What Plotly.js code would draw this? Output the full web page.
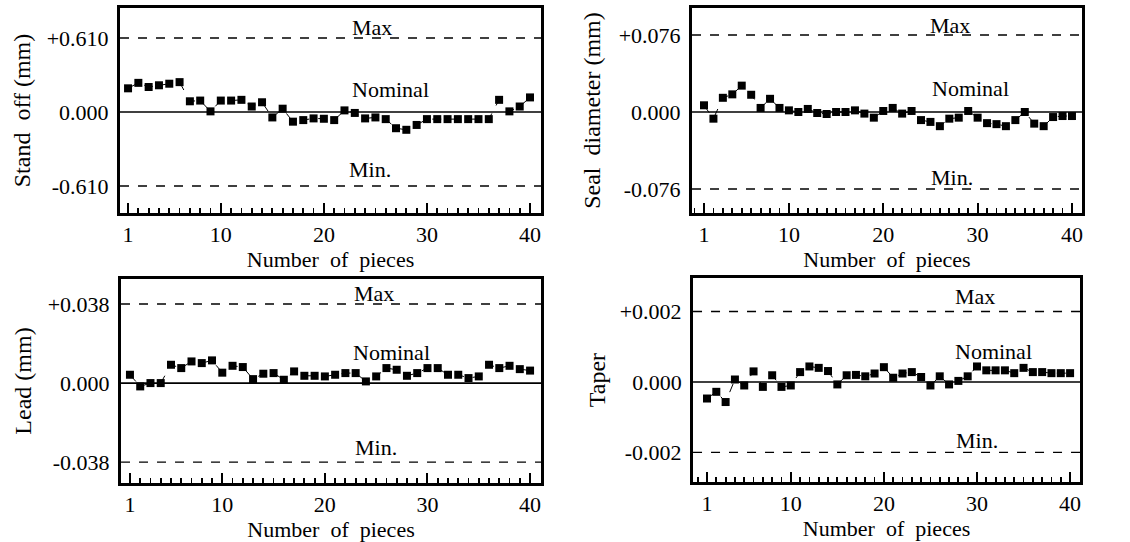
<!DOCTYPE html>
<html>
<head>
<meta charset="utf-8">
<script src="https://cdn.plot.ly/plotly-3.0.1.min.js"></script>
<style>html,body{margin:0;padding:0;background:#fff;}#chart{width:1130px;height:542px;}</style>
</head>
<body>
<div id="chart"></div>
<script>
// ---- data ----
const pieces = Array.from({length: 40}, (_, i) => i + 1);
const xTickVals = [1, 10, 20, 30, 40];
const xTickText = ["1", "10", "20", "30", "40"];

const standOff = [0.195, 0.24, 0.206, 0.22, 0.233, 0.246, 0.088, 0.094, 0.005, 0.094,
  0.094, 0.10, 0.045, 0.08, -0.045, 0.027, -0.08, -0.067, -0.053, -0.056,
  -0.067, 0.013, -0.008, -0.053, -0.045, -0.059, -0.134, -0.147, -0.107, -0.059,
  -0.059, -0.059, -0.059, -0.059, -0.059, -0.059, 0.10, 0.005, 0.045, 0.12];
const sealDiameter = [0.0066, -0.0066, 0.014, 0.0174, 0.026, 0.017, 0.004, 0.013, 0.004, 0.0016,
  0.0, 0.003, -0.001, -0.002, 0.0, 0.0, 0.0016, -0.0016, -0.0056, 0.001,
  0.004, -0.0016, 0.001, -0.008, -0.0098, -0.014, -0.0066, -0.0056, 0.001, -0.0056,
  -0.011, -0.012, -0.014, -0.008, 0.0, -0.0115, -0.014, -0.005, -0.004, -0.004];
const lead = [0.004, -0.0016, 0.0, 0.0, 0.0088, 0.0072, 0.0104, 0.0096, 0.0109, 0.005,
  0.0083, 0.0077, 0.0019, 0.0045, 0.0048, 0.0016, 0.0056, 0.0035, 0.0035, 0.0032,
  0.004, 0.0048, 0.0048, 0.0008, 0.0032, 0.0072, 0.0064, 0.0035, 0.0048, 0.0072,
  0.0072, 0.004, 0.004, 0.0024, 0.0032, 0.0088, 0.0072, 0.0083, 0.0067, 0.006];
const taper = [-0.00047, -0.00028, -0.00057, 0.00007, -0.0001, 0.0003, -0.00014, 0.00019, -0.00014, -0.0001,
  0.00028, 0.00044, 0.0004, 0.00031, -0.00007, 0.00019, 0.0002, 0.00016, 0.00024, 0.00042,
  0.00012, 0.00024, 0.00028, 0.00014, -0.0001, 0.00016, -0.00007, 0.00003, 0.00016, 0.00044,
  0.00033, 0.00033, 0.00033, 0.00025, 0.0004, 0.00028, 0.00028, 0.00025, 0.00025, 0.00025];

const yTitles = ["Stand  off (mm)", "Seal  diameter (mm)", "Lead (mm)", "Taper"];
const limits = [0.610, 0.076, 0.038, 0.002];
const yTickText = [["+0.610", "0.000", "-0.610"], ["+0.076", "0.000", "-0.076"],
  ["+0.038", "0.000", "-0.038"], ["+0.002", "0.000", "-0.002"]];
const limitLabels = ["Max", "Nominal", "Min."];
const xTitle = "Number  of  pieces";

// ---- layout helpers (style only) ----
const series = [standOff, sealDiameter, lead, taper];
const FONT = "Liberation Serif, Times New Roman, serif";
const xDomains = [[0.1062, 0.4788], [0.6124, 0.9575], [0.1071, 0.4788], [0.6133, 0.9558]];
const yDomains = [[0.607, 0.9852], [0.607, 0.9852], [0.1089, 0.4852], [0.1107, 0.487]];
const xRanges = [[0.22, 41.07], [-0.27, 41.06], [0.13, 41.07], [-0.5, 41.07]];
const yRanges = [[-0.833, 0.857], [-0.0997, 0.1026], [-0.048, 0.050], [-0.00284, 0.00295]];
const yTitleStandoff = [10, 12, 10, 8];
// label x positions (data units) and vertical offsets (px) for Max / Nominal / Min.
const labelX = [[24.7, 26.5, 24.5], [27.1, 29.2, 27.3], [24.8, 26.5, 25.0], [29.8, 31.8, 30.0]];
const labelShift = [[10, 22, 16], [9, 23, 11], [10, 31, 15], [15, 30, 12]];

const traces = [];
const layout = {
  width: 1130, height: 542,
  margin: {l: 0, r: 0, t: 0, b: 0},
  paper_bgcolor: "#fff", plot_bgcolor: "#fff",
  showlegend: false,
  font: {family: FONT, color: "#000", size: 21},
  shapes: [], annotations: []
};

for (let k = 0; k < 4; k++) {
  const n = k === 0 ? "" : String(k + 1);
  const xa = "x" + n, ya = "y" + n;
  traces.push({
    type: "scatter", mode: "lines+markers",
    x: pieces, y: series[k], xaxis: xa, yaxis: ya,
    line: {color: "#000", width: 1, dash: "dash"},
    marker: {symbol: "square", size: 8, color: "#000"},
    cliponaxis: false, hoverinfo: "skip"
  });
  const L = limits[k];
  layout["xaxis" + n] = {
    domain: xDomains[k], range: xRanges[k], anchor: ya,
    showgrid: false, zeroline: false,
    showline: true, linecolor: "#000", linewidth: 3, mirror: true,
    ticks: "inside", ticklen: 10, tickwidth: 2, tickcolor: "#000",
    tickmode: "array", tickvals: xTickVals, ticktext: xTickText,
    tickfont: {family: FONT, size: 22, color: "#000"},
    minor: {ticks: "inside", tick0: 0, dtick: 1, ticklen: 5, tickwidth: 1.8, tickcolor: "#000", showgrid: false},
    title: {text: xTitle, font: {family: FONT, size: 22, color: "#000"}, standoff: 0},
    automargin: false, fixedrange: true
  };
  layout["yaxis" + n] = {
    domain: yDomains[k], range: yRanges[k], anchor: xa,
    showgrid: false, zeroline: false,
    showline: true, linecolor: "#000", linewidth: 3, mirror: true,
    ticks: "", tickmode: "array", tickvals: [L, 0, -L], ticktext: yTickText[k],
    tickfont: {family: FONT, size: 22, color: "#000"},
    ticklabelstandoff: 4,
    title: {text: yTitles[k], font: {family: FONT, size: 24, color: "#000"}, standoff: yTitleStandoff[k]},
    automargin: false, fixedrange: true
  };
  // Max / Min dashed lines and nominal solid line
  [L, -L].forEach(v => layout.shapes.push({
    type: "line", xref: xa + " domain", yref: ya, x0: 0, x1: 1, y0: v, y1: v,
    line: {color: "#000", width: 1.4, dash: "dash"}
  }));
  layout.shapes.push({
    type: "line", xref: xa + " domain", yref: ya, x0: 0, x1: 1, y0: 0, y1: 0,
    line: {color: "#000", width: 1.6}
  });
  [L, 0, -L].forEach((v, j) => layout.annotations.push({
    xref: xa, yref: ya, x: labelX[k][j], y: v, text: limitLabels[j],
    showarrow: false, xanchor: "center", yanchor: "middle", yshift: labelShift[k][j],
    font: {family: FONT, size: 22, color: "#000"}
  }));
}

Plotly.newPlot("chart", traces, layout, {staticPlot: true, displayModeBar: false});
</script>
</body>
</html>
